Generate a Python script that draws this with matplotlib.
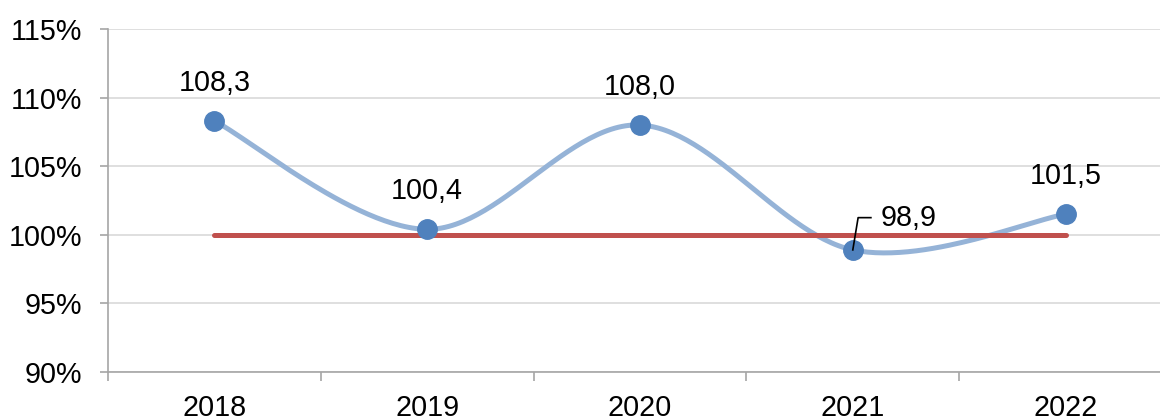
import numpy as np
import matplotlib
matplotlib.use("Agg")
import matplotlib.pyplot as plt

years = ["2018", "2019", "2020", "2021", "2022"]
values = [108.3, 100.4, 108.0, 98.9, 101.5]
labels = ["108,3", "100,4", "108,0", "98,9", "101,5"]
baseline = [100, 100, 100, 100, 100]

plt.rcParams['font.family'] = ['Liberation Sans', 'DejaVu Sans']
FS = 20.7


def smooth(xs, ys, n=60):
    # Excel-like smoothed line: Catmull-Rom as cubic Bezier segments
    pts = np.column_stack([xs, ys]).astype(float)
    ext = np.vstack([pts[0], pts, pts[-1]])
    out = []
    t = np.linspace(0, 1, n)[:, None]
    for i in range(len(pts) - 1):
        p0, p1, p2, p3 = ext[i], ext[i + 1], ext[i + 2], ext[i + 3]
        c1 = p1 + (p2 - p0) / 6
        c2 = p2 - (p3 - p1) / 6
        seg = ((1 - t) ** 3) * p1 + 3 * ((1 - t) ** 2) * t * c1 + 3 * (1 - t) * t ** 2 * c2 + t ** 3 * p2
        out.append(seg if i == 0 else seg[1:])
    out = np.vstack(out)
    return out[:, 0], out[:, 1]


fig = plt.figure(figsize=(11.6, 4.18), dpi=100)
ax = fig.add_axes([108 / 1160, 46 / 418, 1064 / 1160, 343 / 418])

x = np.arange(len(years))
sx, sy = smooth(x, values)
ax.plot(sx, sy, color="#95B3D7", lw=3.6, solid_capstyle="round", zorder=3)
ax.plot(x, baseline, color="#C0504D", lw=3.6, solid_capstyle="round", zorder=4)
ax.plot(x, values, "o", color="#4F81BD", ms=14, zorder=5)

for i, (v, lab) in enumerate(zip(values, labels)):
    if i == 3:
        ax.plot([i, i + 0.025, i + 0.085], [v, v + 2.35, v + 2.35], color="black", lw=1.2, zorder=6)
        ax.text(i + 0.13, v + 2.35, lab, fontsize=FS, ha="left", va="center")
    else:
        ax.text(i, v + 2.8, lab, fontsize=FS, ha="center", va="center")

ax.set_xlim(-0.5, 4.5)
ax.set_ylim(90, 115)
ax.set_yticks(np.arange(90, 116, 5))
ax.set_yticklabels([f"{t}%" for t in range(90, 116, 5)])
ax.set_xticks(x)
ax.set_xticklabels(years)
ax.set_xticks(np.arange(-0.5, 4.6, 1), minor=True)
ax.tick_params(axis="x", which="major", length=0, labelsize=FS, pad=16)
ax.tick_params(axis="x", which="minor", length=6.5, color="#A6A6A6", width=1.2)
ax.tick_params(axis="y", length=5.8, color="#A6A6A6", width=1.2, labelsize=FS, pad=13)
ax.grid(axis="y", color="#D9D9D9", lw=1.2)
ax.set_axisbelow(True)
for s in ["top", "right"]:
    ax.spines[s].set_visible(False)
for s in ["left", "bottom"]:
    ax.spines[s].set_color("#A6A6A6")
    ax.spines[s].set_linewidth(1.2)

fig.savefig("out.png", dpi=100)
